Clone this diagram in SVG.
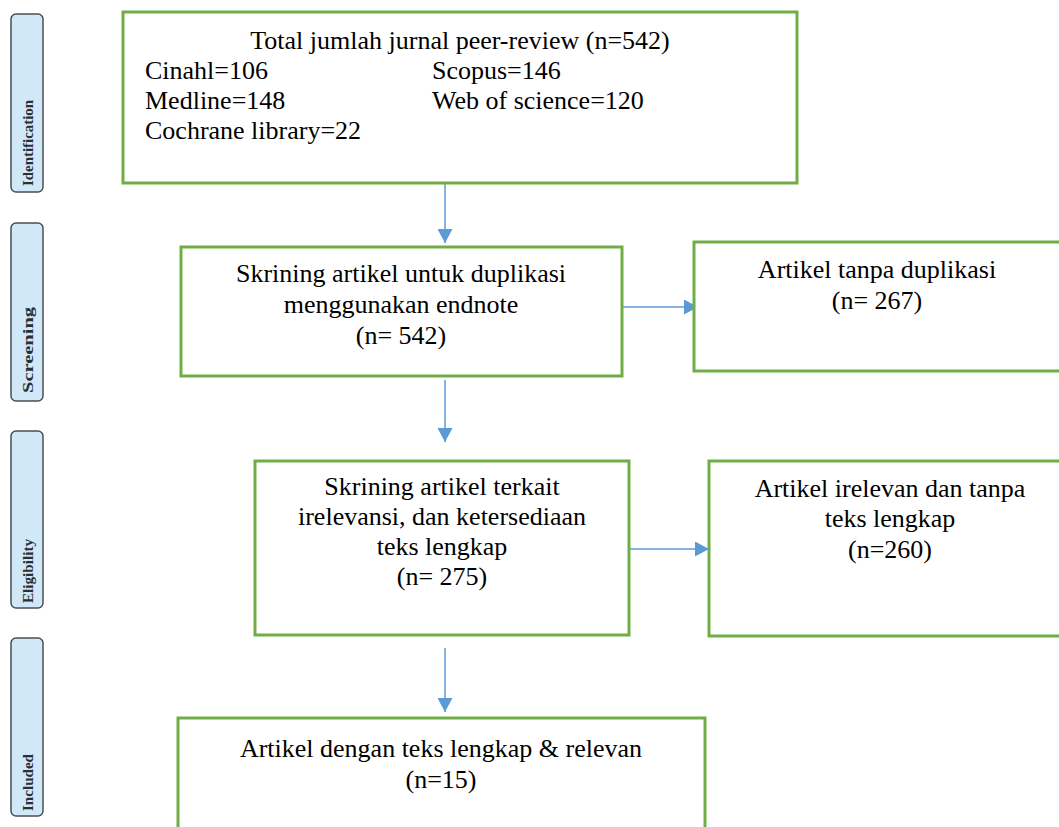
<svg xmlns="http://www.w3.org/2000/svg" width="1059" height="827" viewBox="0 0 1059 827">
<defs>
<style>
.box{fill:#fff;stroke:#70ad47;stroke-width:3}
.t{font-family:"Liberation Serif","Times New Roman",serif;font-size:26px;fill:#000}
.c{text-anchor:middle}
.side{fill:#d0e8f7;stroke:#4a4f55;stroke-width:1.5}
.st{font-family:"Liberation Serif","Times New Roman",serif;font-size:14px;font-weight:bold;fill:#2a2f36}
.ln{stroke:#5b9bd5;stroke-width:1.5;fill:none}
</style>
<marker id="ah" markerWidth="14" markerHeight="15" refX="14" refY="7.5" orient="auto" markerUnits="userSpaceOnUse" viewBox="0 0 14 15">
<path d="M0,0 L14,7.5 L0,15 Z" fill="#5b9bd5"/>
</marker>
</defs>
<rect width="1059" height="827" fill="#fff"/>

<g id="phase-identification">
<rect class="side" x="11" y="14" width="32" height="178" rx="5"/>
<text class="st" transform="translate(33,186) rotate(-90)" textLength="86" lengthAdjust="spacingAndGlyphs">Identification</text>
</g>
<g id="phase-screening">
<rect class="side" x="11" y="223" width="32" height="178" rx="5"/>
<text class="st" transform="translate(33,393) rotate(-90)" textLength="86" lengthAdjust="spacingAndGlyphs">Screening</text>
</g>
<g id="phase-eligibility">
<rect class="side" x="11" y="431" width="32" height="177" rx="5"/>
<text class="st" transform="translate(33,603) rotate(-90)" textLength="64" lengthAdjust="spacingAndGlyphs">Eligibility</text>
</g>
<g id="phase-included">
<rect class="side" x="11" y="638" width="32" height="178" rx="5"/>
<text class="st" transform="translate(33,811) rotate(-90)" textLength="57" lengthAdjust="spacingAndGlyphs">Included</text>
</g>

<g id="connectors">
<line class="ln" x1="445" y1="183" x2="445" y2="243" marker-end="url(#ah)"/>
<line class="ln" x1="620" y1="307" x2="698" y2="307" marker-end="url(#ah)"/>
<line class="ln" x1="445" y1="380" x2="445" y2="442" marker-end="url(#ah)"/>
<line class="ln" x1="630" y1="549" x2="709" y2="549" marker-end="url(#ah)"/>
<line class="ln" x1="445" y1="648" x2="445" y2="712" marker-end="url(#ah)"/>
</g>

<g id="n-total">
<rect class="box" x="123" y="12" width="674" height="171"/>
<text class="t c" x="460" y="49">Total jumlah jurnal peer-review (n=542)</text>
<text class="t" x="145" y="79">Cinahl=106</text>
<text class="t" x="432" y="79">Scopus=146</text>
<text class="t" x="145" y="109">Medline=148</text>
<text class="t" x="432" y="109">Web of science=120</text>
<text class="t" x="145" y="139">Cochrane library=22</text>
</g>

<g id="n-skrining-dup">
<rect class="box" x="181" y="247" width="441" height="129"/>
<text class="t c" x="401" y="282">Skrining artikel untuk duplikasi</text>
<text class="t c" x="401" y="313">menggunakan endnote</text>
<text class="t c" x="401" y="344">(n= 542)</text>
</g>

<g id="n-tanpa-dup">
<rect class="box" x="694" y="242" width="370" height="129"/>
<text class="t c" x="877" y="278">Artikel tanpa duplikasi</text>
<text class="t c" x="877" y="309">(n= 267)</text>
</g>

<g id="n-skrining-rel">
<rect class="box" x="255" y="461" width="374" height="174"/>
<text class="t c" x="442" y="495">Skrining artikel terkait</text>
<text class="t c" x="442" y="525">irelevansi, dan ketersediaan</text>
<text class="t c" x="442" y="555">teks lengkap</text>
<text class="t c" x="442" y="585">(n= 275)</text>
</g>

<g id="n-irelevan">
<rect class="box" x="709" y="461" width="355" height="175"/>
<text class="t c" x="890" y="497">Artikel irelevan dan tanpa</text>
<text class="t c" x="890" y="527">teks lengkap</text>
<text class="t c" x="890" y="558">(n=260)</text>
</g>

<g id="n-included">
<rect class="box" x="178" y="718" width="527" height="130"/>
<text class="t c" x="441" y="757">Artikel dengan teks lengkap &amp; relevan</text>
<text class="t c" x="441" y="788">(n=15)</text>
</g>
</svg>
